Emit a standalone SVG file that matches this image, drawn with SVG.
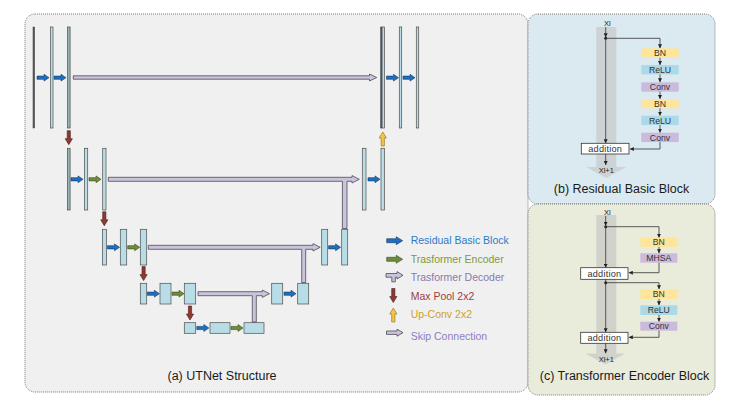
<svg xmlns="http://www.w3.org/2000/svg" xmlns:xlink="http://www.w3.org/1999/xlink" width="736" height="406" viewBox="0 0 736 406">
<defs>
<style>
.panel{stroke:#7a7a7a;stroke-width:1;stroke-dasharray:1,1}
.bar{fill:#b9dde6;stroke:#4d4d4d;stroke-width:0.7}
.barg{fill:#92b4b8;stroke:#4d4d4d;stroke-width:0.7}
.bard{fill:#5a5a5a;stroke:#3d3d3d;stroke-width:0.5}
.blue{fill:#1c70c4;stroke:#1b3554;stroke-width:0.6}
.green{fill:#6f8c3a;stroke:#3b4a20;stroke-width:0.6}
.skip{fill:#cbc3db;stroke:#4d4a55;stroke-width:0.8}
.pool{fill:#8d3a30;stroke:#4a1d18;stroke-width:0.6}
.up{fill:#f6c544;stroke:#8a6a10;stroke-width:0.6}
.t{font-family:"Liberation Sans",Arial,sans-serif}
.cap{font-size:12.5px;fill:#1a1a1a}
.leg{font-size:10.5px}
.lbl{font-size:8.7px;fill:#333;text-anchor:middle}
.small{font-size:7.5px;fill:#222;text-anchor:middle}
.band{fill:#c8c8c8;opacity:0.7}
.ln{stroke:#333;stroke-width:0.8;fill:none}
.bn{fill:#fde59b}
.relu{fill:#abd9e8}
.conv{fill:#cabadb}
.add{fill:#fff;stroke:#333;stroke-width:0.8}
</style>
<path id="ra" d="M0,-1.6 H7 V-3.4 L12,0 L7,3.4 V1.6 H0 Z"/>
<path id="lra" d="M0,-2 H9.5 V-4 L16,0 L9.5,4 V2 H0 Z"/>
<path id="dn" d="M-1.6,0 H1.6 V8 H3.6 L0,14 L-3.6,8 H-1.6 Z"/>
<path id="upa" d="M-1.6,14 H1.6 V6 H3.6 L0,0 L-3.6,6 H-1.6 Z"/>
<marker id="ah" viewBox="0 0 6 6" refX="6" refY="3" markerWidth="4" markerHeight="4" orient="auto" markerUnits="userSpaceOnUse">
<path d="M0,0 L6,3 L0,6 Z" fill="#222"/>
</marker>
</defs>
<rect width="736" height="406" fill="#fff"/>

<!-- Panels -->
<g id="panel-a">
<rect class="panel" x="25" y="14" width="503" height="378" rx="10" fill="#f0f0f0"/>
<text class="t cap" x="222" y="380" text-anchor="middle">(a) UTNet Structure</text>
</g>
<g id="panel-b">
<rect class="panel" x="528" y="14" width="187" height="190" rx="10" fill="#dbeaf1"/>
<text class="t cap" x="621.5" y="192.5" text-anchor="middle">(b) Residual Basic Block</text>
</g>
<g id="panel-c">
<rect class="panel" x="528" y="204" width="187" height="191" rx="10" fill="#e9ebdb"/>
<text class="t cap" x="624.5" y="380" text-anchor="middle">(c) Transformer Encoder Block</text>
</g>

<!-- UTNet nodes -->
<g id="level1-enc">
<rect class="bard" x="33" y="27" width="1.6" height="101"/>
<rect class="bar" x="50.5" y="27" width="2.5" height="101"/>
<rect class="barg" x="67.5" y="27" width="2.6" height="101"/>
</g>
<g id="level1-dec">
<rect class="bard" x="380.6" y="27" width="1.5" height="101"/>
<rect class="bar" x="382.1" y="27" width="2.3" height="101"/>
<rect class="bar" x="399.3" y="27" width="2.4" height="101"/>
<rect class="bar" x="416.3" y="27" width="2.4" height="101"/>
</g>
<g id="level2-enc">
<rect class="barg" x="67.4" y="148.3" width="2.7" height="61.7"/>
<rect class="bar" x="84.4" y="148.3" width="3.3" height="61.7"/>
<rect class="bar" x="102.7" y="148.3" width="3.3" height="61.7"/>
</g>
<g id="level2-dec">
<rect class="bar" x="362.3" y="148.3" width="3.7" height="61.7"/>
<rect class="bar" x="381" y="148.3" width="3.5" height="61.7"/>
</g>
<g id="level3-enc">
<rect class="bar" x="102.4" y="229.3" width="4.2" height="35.7"/>
<rect class="bar" x="120.3" y="229.3" width="6.4" height="35.7"/>
<rect class="bar" x="140.3" y="229.3" width="6.4" height="35.7"/>
</g>
<g id="level3-dec">
<rect class="bar" x="321.7" y="229.3" width="6" height="35.7"/>
<rect class="bar" x="341.7" y="229.3" width="6" height="35.7"/>
</g>
<g id="level4-enc">
<rect class="bar" x="140.3" y="283.3" width="6.4" height="20.7"/>
<rect class="bar" x="160" y="283.3" width="11" height="20.7"/>
<rect class="bar" x="184.3" y="283.3" width="11.4" height="20.7"/>
</g>
<g id="level4-dec">
<rect class="bar" x="271.7" y="283.3" width="11" height="20.7"/>
<rect class="bar" x="297.7" y="283.3" width="11" height="20.7"/>
</g>
<g id="level5">
<rect class="bar" x="184.3" y="322.7" width="11.4" height="10.6"/>
<rect class="bar" x="210" y="322.7" width="20" height="10.6"/>
<rect class="bar" x="244" y="322.7" width="20" height="10.6"/>
</g>

<!-- Connectors -->
<g id="connectors">
<use href="#ra" class="blue" x="37" y="77.7"/>
<use href="#ra" class="blue" x="54" y="77.7"/>
<use href="#ra" class="blue" x="386.5" y="77.7"/>
<use href="#ra" class="blue" x="403" y="77.7"/>
<use href="#ra" class="blue" x="71" y="179.3"/>
<use href="#ra" class="green" x="89" y="179.3"/>
<use href="#ra" class="blue" x="368" y="179.3"/>
<use href="#ra" class="blue" x="107.5" y="247.3"/>
<use href="#ra" class="green" x="127.7" y="247.3"/>
<use href="#ra" class="blue" x="328.6" y="247.3"/>
<use href="#ra" class="blue" x="147.4" y="293.7"/>
<use href="#ra" class="green" x="172" y="293.7"/>
<use href="#ra" class="blue" x="284" y="293.7"/>
<use href="#ra" class="blue" x="196.8" y="328"/>
<use href="#ra" class="green" x="231" y="328"/>

<path class="skip" d="M73.3,75.8 H369.5 V74 L376.7,77.5 L369.5,81 V79.2 H73.3 Z"/>
<path class="skip" d="M108.3,177.3 H352 V175.6 L359.3,179.3 L352,183 V181.3 H347 V228.5 H342.4 V181.3 H108.3 Z"/>
<path class="skip" d="M148.3,245.3 H313 V243.6 L320.2,247.3 L313,251 V249.3 H305.7 V282.5 H301.7 V249.3 H148.3 Z"/>
<path class="skip" d="M198,291.7 H262.3 V290 L269.5,293.7 L262.3,297.4 V295.7 H256.3 V322 H252.3 V295.7 H198 Z"/>

<use href="#dn" class="pool" x="68.8" y="130.7"/>
<use href="#dn" class="pool" x="104.3" y="211.8"/>
<use href="#dn" class="pool" x="143.6" y="266.6"/>
<use href="#dn" class="pool" x="190" y="306"/>
<use href="#upa" class="up" x="382.8" y="132"/>
</g>

<!-- Legend -->
<g id="legend">
<use href="#lra" class="blue" x="386.7" y="240.7"/>
<text class="t leg" x="410.7" y="244.3" fill="#2a7ac8">Residual Basic Block</text>
<use href="#lra" class="green" x="386.7" y="259.3"/>
<text class="t leg" x="410.7" y="262.8" fill="#7d9a3e">Trasformer Encoder</text>
<path class="skip" d="M386,273.5 H397 V271.6 L403,275.3 L397,279 V277.2 H395.3 V281.8 H391.8 V277.2 H386 Z"/>
<text class="t leg" x="410.7" y="281.2" fill="#8b78b0">Trasformer Decoder</text>
<use href="#dn" class="pool" x="393.3" y="288.5"/>
<text class="t leg" x="410.7" y="299.5" fill="#a03e3c">Max Pool 2x2</text>
<use href="#upa" class="up" x="393.3" y="308"/>
<text class="t leg" x="410.7" y="318" fill="#d0a124">Up-Conv 2x2</text>
<path class="skip" d="M386.5,331 H397 V329.2 L403,332.7 L397,336.2 V334.4 H386.5 Z"/>
<text class="t leg" x="410.7" y="340" fill="#8f7dc0">Skip Connection</text>
</g>

<!-- Residual basic block -->
<g id="rbb">
<rect class="band" x="596.3" y="27" width="20" height="140"/>
<path class="band" d="M586.3,167 H626.3 L606.3,178 Z"/>
<text class="t small" x="607.3" y="26">Xl</text>
<line class="ln" x1="605.7" y1="27" x2="605.7" y2="37.3" marker-end="url(#ah)"/>
<circle cx="605.7" cy="38.3" r="1.5" fill="#222"/>
<line class="ln" x1="605.7" y1="38.3" x2="605.7" y2="143.3" marker-end="url(#ah)"/>
<polyline class="ln" points="605.7,38.3 660,38.3 660,48.3" marker-end="url(#ah)"/>
<g id="rbb-bn1"><rect class="bn" x="641.3" y="48.3" width="37.4" height="9.4"/><text class="t lbl" x="660" y="56.1">BN</text></g>
<line class="ln" x1="660" y1="57.7" x2="660" y2="65" marker-end="url(#ah)"/>
<g id="rbb-relu1"><rect class="relu" x="641.3" y="65" width="37.4" height="9.4"/><text class="t lbl" x="660" y="72.8">ReLU</text></g>
<line class="ln" x1="660" y1="74.4" x2="660" y2="82.3" marker-end="url(#ah)"/>
<g id="rbb-conv1"><rect class="conv" x="641.3" y="82.3" width="37.4" height="9.4"/><text class="t lbl" x="660" y="90.1">Conv</text></g>
<line class="ln" x1="660" y1="91.7" x2="660" y2="99" marker-end="url(#ah)"/>
<g id="rbb-bn2"><rect class="bn" x="641.3" y="99" width="37.4" height="9.4"/><text class="t lbl" x="660" y="106.8">BN</text></g>
<line class="ln" x1="660" y1="108.4" x2="660" y2="115.7" marker-end="url(#ah)"/>
<g id="rbb-relu2"><rect class="relu" x="641.3" y="115.7" width="37.4" height="9.4"/><text class="t lbl" x="660" y="123.5">ReLU</text></g>
<line class="ln" x1="660" y1="125.1" x2="660" y2="132.7" marker-end="url(#ah)"/>
<g id="rbb-conv2"><rect class="conv" x="641.3" y="132.7" width="37.4" height="9.4"/><text class="t lbl" x="660" y="140.5">Conv</text></g>
<polyline class="ln" points="660,142.1 660,149 629.8,149" marker-end="url(#ah)"/>
<g id="rbb-add"><rect class="add" x="581.3" y="143.3" width="47.7" height="10.7"/><text class="t lbl" x="605.2" y="151.7" style="font-size:9.2px;letter-spacing:0.2px">addition</text></g>
<line class="ln" x1="605.7" y1="154" x2="605.7" y2="165" marker-end="url(#ah)"/>
<text class="t small" x="606.3" y="173">Xl+1</text>
</g>

<!-- Transformer encoder block -->
<g id="teb">
<rect class="band" x="596.3" y="215" width="20" height="138.5"/>
<path class="band" d="M585.5,353.5 H625 L605.5,364.5 Z"/>
<text class="t small" x="607.3" y="215">Xl</text>
<line class="ln" x1="605.7" y1="216" x2="605.7" y2="225.7" marker-end="url(#ah)"/>
<circle cx="605.7" cy="226.7" r="1.5" fill="#222"/>
<line class="ln" x1="605.7" y1="226.7" x2="605.7" y2="267.7" marker-end="url(#ah)"/>
<polyline class="ln" points="605.7,226.7 659,226.7 659,237.7" marker-end="url(#ah)"/>
<g id="teb-bn1"><rect class="bn" x="640.3" y="237.7" width="37" height="9.2"/><text class="t lbl" x="658.8" y="245.4">BN</text></g>
<line class="ln" x1="659" y1="246.9" x2="659" y2="253.3" marker-end="url(#ah)"/>
<g id="teb-mhsa"><rect class="conv" x="640.3" y="253.3" width="37" height="9.4"/><text class="t lbl" x="658.8" y="261.1">MHSA</text></g>
<polyline class="ln" points="659,262.7 659,272.7 628.8,272.7" marker-end="url(#ah)"/>
<g id="teb-add1"><rect class="add" x="580.7" y="267.7" width="47.3" height="11.6"/><text class="t lbl" x="604.4" y="276.6" style="font-size:9.2px;letter-spacing:0.2px">addition</text></g>
<line class="ln" x1="605.7" y1="279.3" x2="605.7" y2="332.3" marker-end="url(#ah)"/>
<circle cx="605.7" cy="282.7" r="1.5" fill="#222"/>
<polyline class="ln" points="605.7,282.7 659,282.7 659,289.3" marker-end="url(#ah)"/>
<g id="teb-bn2"><rect class="bn" x="640.3" y="289.3" width="37" height="9.7"/><text class="t lbl" x="658.8" y="297.2">BN</text></g>
<line class="ln" x1="659" y1="299" x2="659" y2="305.3" marker-end="url(#ah)"/>
<g id="teb-relu"><rect class="relu" x="640.3" y="305.3" width="37" height="9.7"/><text class="t lbl" x="658.8" y="313.2">ReLU</text></g>
<line class="ln" x1="659" y1="315" x2="659" y2="321.7" marker-end="url(#ah)"/>
<g id="teb-conv"><rect class="conv" x="640.3" y="321.7" width="37" height="9"/><text class="t lbl" x="658.8" y="329.3">Conv</text></g>
<polyline class="ln" points="659,330.7 659,337.3 628.8,337.3" marker-end="url(#ah)"/>
<g id="teb-add2"><rect class="add" x="580.7" y="332.3" width="47.3" height="11"/><text class="t lbl" x="604.4" y="340.9" style="font-size:9.2px;letter-spacing:0.2px">addition</text></g>
<line class="ln" x1="605.7" y1="343.3" x2="605.7" y2="353.3" marker-end="url(#ah)"/>
<text class="t small" x="606.3" y="362">Xl+1</text>
</g>
</svg>
